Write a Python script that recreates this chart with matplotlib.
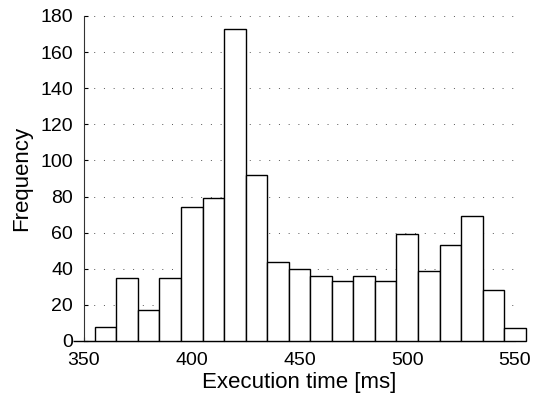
import numpy as np
import matplotlib.pyplot as plt

plt.rcParams['font.family'] = ['Liberation Sans', 'DejaVu Sans']

# bin centres [ms] and counts
centers = [350, 360, 370, 380, 390, 400, 410, 420, 430, 440, 450,
           460, 470, 480, 490, 500, 510, 520, 530, 540, 550]
counts = [0, 8, 35, 17, 35, 74, 79, 173, 92, 44, 40,
          36, 33, 36, 33, 59, 39, 53, 69, 28, 7]
bin_width = 10

fig = plt.figure(figsize=(5.4, 3.99), dpi=100)
ax = fig.add_axes([0.1556, 0.1454, 0.7981, 0.8146])

ax.bar(centers, counts, width=bin_width, color='white', edgecolor='black',
       linewidth=1.0, clip_on=False, zorder=3)

ax.set_xlim(350, 550)
ax.set_ylim(0, 180)
ax.set_xticks(np.arange(350, 551, 50))
ax.set_yticks(np.arange(0, 181, 20))
ax.yaxis.grid(True, linestyle=(0, (1, 9)), color='#555555', linewidth=0.7)
ax.set_axisbelow(True)

for s in ['top', 'right']:
    ax.spines[s].set_visible(False)
for s in ['left', 'bottom']:
    ax.spines[s].set_linewidth(0.8)
    ax.spines[s].set_color('#333333')

ax.tick_params(direction='in', length=3, width=0.8, labelsize=14)
ax.tick_params(axis='y', pad=8)
ax.tick_params(axis='x', pad=8)
ax.set_xlabel('Execution time [ms]', fontsize=16, labelpad=2)
ax.set_ylabel('Frequency', fontsize=16, labelpad=6)

plt.savefig('out.png', dpi=100)
